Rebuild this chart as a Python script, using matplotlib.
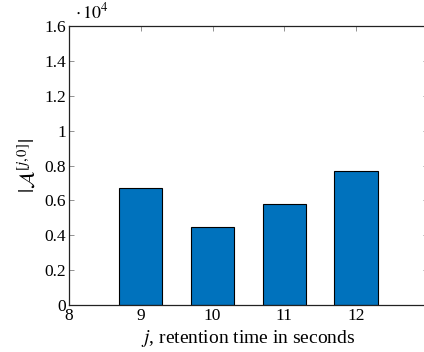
import numpy as np
import matplotlib
matplotlib.use('Agg')
import matplotlib.pyplot as plt

plt.rcParams['font.family'] = ['Liberation Serif', 'DejaVu Serif']
plt.rcParams['mathtext.fontset'] = 'stix'

retention = [9, 10, 11, 12]
counts = [6710, 4470, 5790, 7680]
yticks = [0, 2000, 4000, 6000, 8000, 10000, 12000, 14000, 16000]
ytick_labels = ['0', '0.2', '0.4', '0.6', '0.8', '1', '1.2', '1.4', '1.6']
xticks = [8, 9, 10, 11, 12]

fig = plt.figure(figsize=(4.24, 3.52), dpi=100)
ax = fig.add_axes([69 / 424, 1 - 305 / 352, (427.75 - 69) / 424, (305 - 26) / 352])

ax.bar(retention, counts, width=0.6, color='#0072BD', edgecolor='black', linewidth=0.8, zorder=2)

ax.set_xlim(8, 13)
ax.set_ylim(0, 16000)
ax.set_xticks(xticks)
ax.set_yticks(yticks)
ax.set_yticklabels(ytick_labels)
ax.tick_params(direction='in', length=3.5, width=0.6, color='#808080',
               top=True, right=True, labelsize=12.5, pad=2)
for s in ax.spines.values():
    s.set_linewidth(0.9)
    s.set_color('#222222')

ax.set_xlabel(r'$j$, retention time in seconds', fontsize=14, labelpad=3)
ax.set_ylabel(r'$|\mathcal{A}^{[j,0]}|$', fontsize=15, labelpad=4)
fig.text(75 / 424, 1 - 12 / 352, r'$\cdot\,10^4$', fontsize=13, va='center')

plt.savefig('out.png', dpi=100)
plt.close()
